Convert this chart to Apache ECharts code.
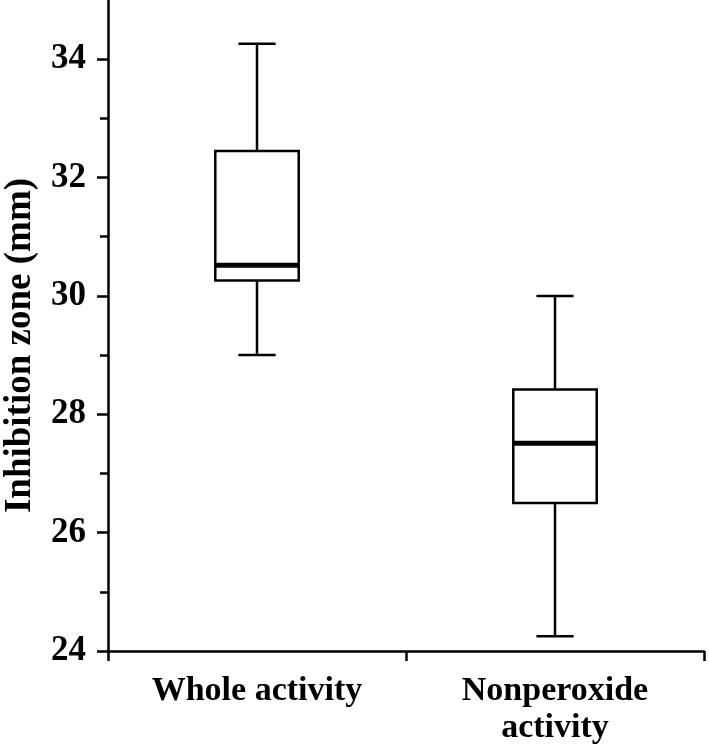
<!DOCTYPE html>
<html>
<head>
<meta charset="utf-8">
<script src="https://cdn.jsdelivr.net/npm/echarts@6/dist/echarts.min.js"></script>
<style>
html,body{margin:0;padding:0;background:#fff;}
#chart{width:709px;height:750px;}
</style>
</head>
<body>
<div id="chart"></div>
<script>
const categories = ['Whole activity', 'Nonperoxide\nactivity'];
const lowWhisker = [29.0, 24.25];
const q1 = [30.26, 26.5];
const median = [30.52, 27.51];
const q3 = [32.45, 28.42];
const highWhisker = [34.26, 30.0];
const yMajorTicks = [24, 26, 28, 30, 32, 34];
const yMinorTicks = [25, 27, 29, 31, 33];

const data = categories.map((c, i) => [i, lowWhisker[i], q1[i], median[i], q3[i], highWhisker[i]]);

const FONT = "'Liberation Serif', 'Times New Roman', serif";

function renderItem(params, api) {
  const x = api.value(0);
  const pLow = api.coord([x, api.value(1)]);
  const pQ1 = api.coord([x, api.value(2)]);
  const pMed = api.coord([x, api.value(3)]);
  const pQ3 = api.coord([x, api.value(4)]);
  const pHigh = api.coord([x, api.value(5)]);
  const band = api.size([1, 0])[0];
  const bw = band * 0.28;
  const cw = band * 0.125;
  const cx = pMed[0];
  const ls = {stroke: '#000', lineWidth: 2.5, fill: null};
  return {
    type: 'group',
    children: [
      {type: 'line', shape: {x1: cx, y1: pHigh[1], x2: cx, y2: pQ3[1]}, style: ls},
      {type: 'line', shape: {x1: cx, y1: pQ1[1], x2: cx, y2: pLow[1]}, style: ls},
      {type: 'line', shape: {x1: cx - cw / 2, y1: pHigh[1], x2: cx + cw / 2, y2: pHigh[1]}, style: ls},
      {type: 'line', shape: {x1: cx - cw / 2, y1: pLow[1], x2: cx + cw / 2, y2: pLow[1]}, style: ls},
      {type: 'rect', shape: {x: cx - bw / 2, y: pQ3[1], width: bw, height: pQ1[1] - pQ3[1]}, style: {fill: '#fff', stroke: '#000', lineWidth: 2.5}},
      {type: 'line', shape: {x1: cx - bw / 2, y1: pMed[1], x2: cx + bw / 2, y2: pMed[1]}, style: {stroke: '#000', lineWidth: 5}}
    ]
  };
}

const chart = echarts.init(document.getElementById('chart'), null, {renderer: 'canvas'});
chart.setOption({
  animation: false,
  backgroundColor: '#fff',
  grid: {left: 108, right: 5, top: 0, bottom: 99, containLabel: false, outerBoundsMode: 'none'},
  xAxis: {
    type: 'category',
    data: categories,
    boundaryGap: true,
    axisLine: {lineStyle: {color: '#000', width: 2.5}},
    axisTick: {show: true, length: 10, lineStyle: {color: '#000', width: 2.5}},
    axisLabel: {color: '#000', fontFamily: FONT, fontWeight: 'bold', fontSize: 34, lineHeight: 37, margin: 22},
    splitLine: {show: false}
  },
  yAxis: [{
    type: 'value',
    min: 24,
    max: 35,
    interval: 1,
    position: 'left',
    name: 'Inhibition zone (mm)',
    nameLocation: 'middle',
    nameGap: 69,
    nameTextStyle: {color: '#000', fontFamily: FONT, fontWeight: 'bold', fontSize: 37, padding: [0, 40, 0, 0]},
    axisLine: {show: true, lineStyle: {color: '#000', width: 2.5}},
    axisTick: {show: true, length: 11, customValues: yMajorTicks, lineStyle: {color: '#000', width: 2.5}},
    axisLabel: {color: '#000', fontFamily: FONT, fontWeight: 'bold', fontSize: 35, margin: 22, customValues: yMajorTicks},
    splitLine: {show: false}
  }, {
    type: 'value',
    min: 24,
    max: 35,
    interval: 1,
    position: 'left',
    axisLine: {show: false},
    axisTick: {show: true, length: 8, customValues: yMinorTicks, lineStyle: {color: '#000', width: 2.5}},
    axisLabel: {show: false},
    splitLine: {show: false}
  }],
  series: [{
    type: 'custom',
    renderItem: renderItem,
    data: data,
    encode: {x: 0, y: [1, 2, 3, 4, 5]},
    z: 10
  }]
});
</script>
</body>
</html>
